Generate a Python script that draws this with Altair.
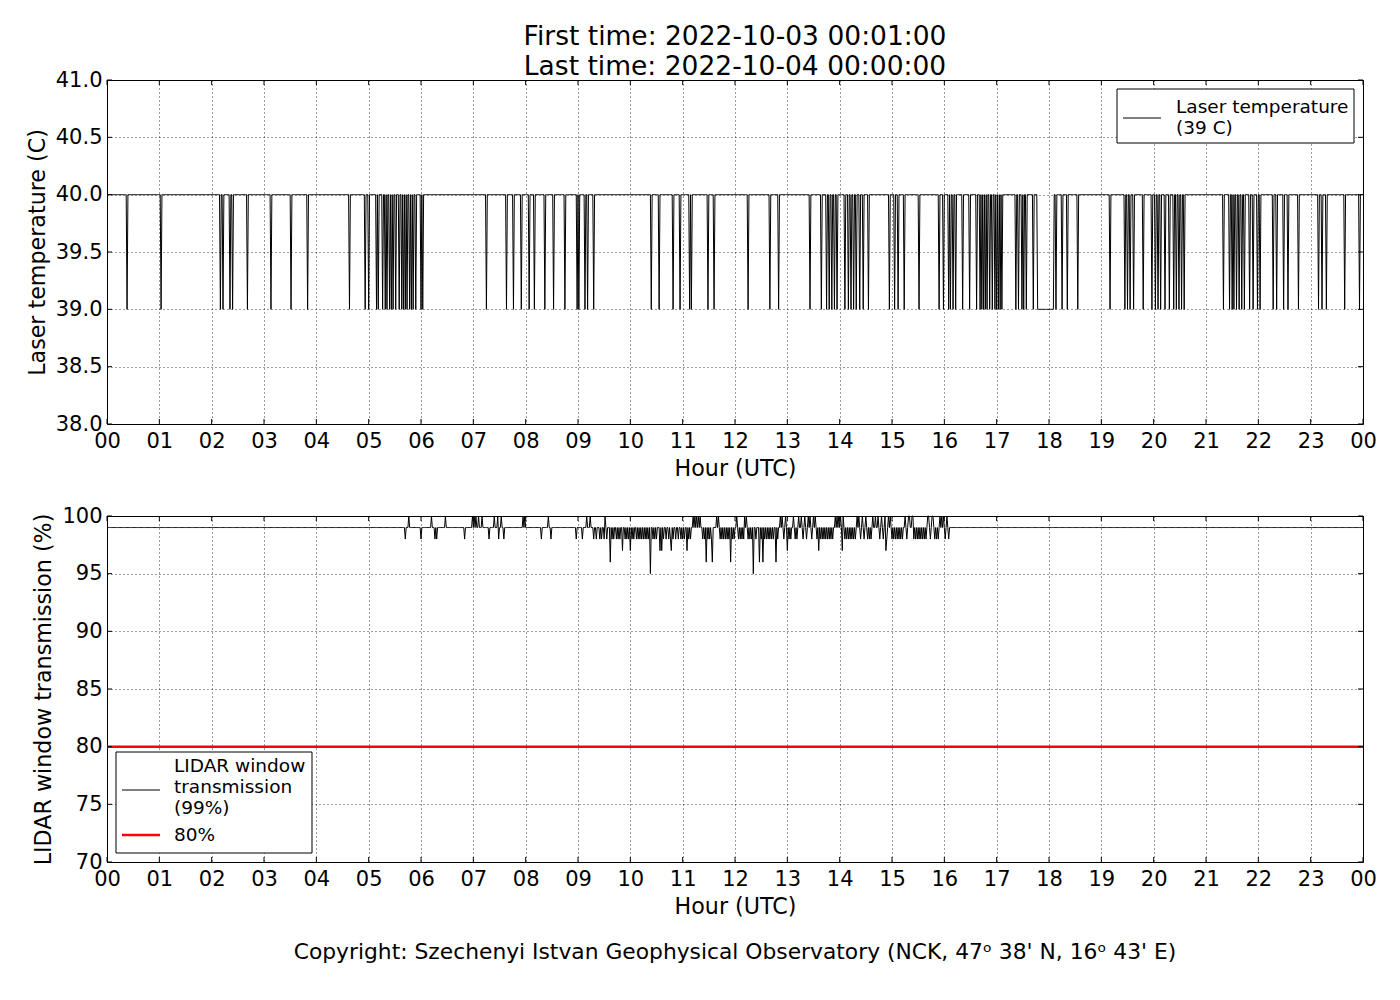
import altair as alt
import pandas as pd

# ---------------- data ----------------
HOUR_TICKS = list(range(25))
LASER_TICKS = [38.0, 38.5, 39.0, 39.5, 40.0, 40.5, 41.0]
LIDAR_TICKS = [70, 75, 80, 85, 90, 95, 100]

N_MINUTES = 1440  # samples every minute, 00:01 ... 24:00

LASER_LEGEND = ["Laser temperature", "(39 C)"]
LASER_NORMAL = 40
LASER_DIP = 39
LASER_DIP_MINUTES = [
    23, 62, 130, 133, 141, 144, 161, 188, 211, 230, 278, 296, 300, 309, 311,
    316, 319, 321, 324, 326, 328, 331, 335, 338, 340, 342, 344, 347, 349, 351,
    354, 360, 362, 435, 458, 466, 475, 484, 490, 502, 512, 525, 539, 541, 548,
    551, 558, 624, 633, 649, 657, 668, 670, 689, 696, 735, 760, 770, 806, 819,
    825, 828, 831, 834, 837, 846, 850, 853, 856, 859, 863, 867, 873, 897, 903,
    907, 914, 931, 954, 959, 965, 967, 970, 973, 981, 989, 997, 1001, 1003,
    1005, 1007, 1009, 1012, 1015, 1018, 1020, 1022, 1024, 1026, 1042, 1045,
    1049, 1051, 1054, 1062, 1088, 1095, 1101, 1113, 1150, 1167, 1170, 1173,
    1177, 1188, 1198, 1202, 1205, 1208, 1213, 1218, 1223, 1226, 1229, 1232,
    1235, 1280, 1287, 1290, 1292, 1295, 1298, 1301, 1304, 1310, 1314, 1319,
    1322, 1337, 1341, 1349, 1354, 1366, 1389, 1393, 1398, 1419, 1436,
]
LASER_LOW_SPANS = [(1067, 1085)]

LIDAR_LEGEND = ["LIDAR window", "transmission", "(99%)"]
THRESHOLD_LEGEND = "80%"
THRESHOLD = 80
LIDAR_NORMAL = 99
LIDAR_100 = [
    346, 372, 388, 419, 421, 423, 426, 430, 444, 448, 452, 477, 479, 506, 550,
    554, 571, 672, 674, 676, 678, 680, 699, 701, 722, 731, 733, 772, 774, 778,
    787, 793, 796, 800, 804, 806, 810, 812, 835, 837, 839, 841, 844, 860, 862,
    866, 870, 878, 881, 884, 888, 892, 896, 898, 915, 919, 920, 923, 924, 941,
    942, 946, 947, 955, 957, 959, 963,
]
LIDAR_98 = [
    342, 360, 376, 378, 410, 438, 449, 455, 498, 509, 538, 545, 558, 561, 565,
    567, 570, 573, 579, 581, 584, 586, 588, 594, 596, 598, 602, 604, 607, 609,
    611, 613, 615, 617, 619, 621, 626, 628, 630, 638, 641, 644, 646, 649, 652,
    655, 658, 660, 662, 667, 669, 683, 685, 689, 691, 693, 703, 705, 707, 709,
    711, 713, 717, 719, 724, 726, 728, 730, 735, 737, 739, 744, 750, 754, 756,
    758, 760, 762, 764, 769, 776, 782, 784, 789, 791, 798, 802, 808, 814, 818,
    820, 822, 824, 826, 828, 830, 832, 846, 848, 850, 852, 854, 856, 858, 864,
    868, 872, 874, 876, 886, 890, 894, 900, 902, 904, 906, 908, 910, 912, 917,
    925, 927, 929, 931, 933, 935, 937, 939, 944, 949, 951, 953, 961, 965,
]
LIDAR_97 = [591, 600, 634, 636, 647, 665, 780, 816, 843, 893]
LIDAR_96 = [577, 687, 694, 715, 748, 752, 767]
LIDAR_95 = [623, 741]

TITLE_LINES = ["First time: 2022-10-03 00:01:00", "Last time: 2022-10-04 00:00:00"]
COPYRIGHT = "Copyright: Szechenyi Istvan Geophysical Observatory (NCK, 47\u1d52  38' N, 16\u1d52  43' E)"

# ---------------- tables ----------------
minutes = list(range(1, N_MINUTES + 1))

laser = {m: LASER_NORMAL for m in minutes}
for m in LASER_DIP_MINUTES:
    laser[m] = LASER_DIP
for a, b in LASER_LOW_SPANS:
    for m in range(a, b + 1):
        laser[m] = LASER_DIP
laser_df = pd.DataFrame({
    "hour": [m / 60 for m in minutes],
    "temp": [laser[m] for m in minutes],
})

lidar = {m: LIDAR_NORMAL for m in minutes}
for level, mins in [(98, LIDAR_98), (100, LIDAR_100), (97, LIDAR_97), (96, LIDAR_96), (95, LIDAR_95)]:
    for m in mins:
        lidar[m] = level
lidar_df = pd.DataFrame({
    "hour": [m / 60 for m in minutes],
    "trans": [lidar[m] for m in minutes],
})
thr_df = pd.DataFrame({"trans": [THRESHOLD]})

xt_df = pd.DataFrame({"hour": HOUR_TICKS})
yt1_df = pd.DataFrame({"temp": LASER_TICKS})
yt2_df = pd.DataFrame({"trans": LIDAR_TICKS})
one = pd.DataFrame({"k": [0]})

# ---------------- layout constants ----------------
W, H1, H2 = 1256, 344, 346
TICK = 5
FONT = "DejaVu Sans"
LEG_FS = 18.5
RED = "#ff0000"

x_scale = alt.Scale(domain=[0, 24], nice=False, zero=False)
x_axis = alt.Axis(
    values=HOUR_TICKS,
    labelExpr="datum.value == 24 ? '00' : (datum.value < 10 ? '0' + datum.value : '' + datum.value)",
    title="Hour (UTC)",
    labelFlush=False,
    labelOverlap=False,
    labelPadding=6,
)
y1_scale = alt.Scale(domain=[38, 41], nice=False, zero=False)
y1_axis = alt.Axis(values=LASER_TICKS, format=".1f", title="Laser temperature (C)",
                   labelOverlap=False)
y2_scale = alt.Scale(domain=[70, 100], nice=False, zero=False)
y2_axis = alt.Axis(values=LIDAR_TICKS, format="d", title="LIDAR window transmission (%)",
                   labelOverlap=False)


def tick_layers(H, yfield, ydf, yscale, yaxis):
    xenc = alt.X("hour:Q", scale=x_scale, axis=x_axis)
    yenc = alt.Y(f"{yfield}:Q", scale=yscale, axis=yaxis)
    base_x = alt.Chart(xt_df).mark_rule(color="black", strokeWidth=1)
    xb = base_x.encode(x=xenc, y=alt.value(H - TICK), y2=alt.value(H))
    xtp = base_x.encode(x=xenc, y=alt.value(0), y2=alt.value(TICK))
    base_y = alt.Chart(ydf).mark_rule(color="black", strokeWidth=1)
    yl = base_y.encode(y=yenc, x=alt.value(0), x2=alt.value(TICK))
    yr = base_y.encode(y=yenc, x=alt.value(W - TICK), x2=alt.value(W))
    return [xb, xtp, yl, yr]


def legend_box(x0, x1, y0, y1):
    return alt.Chart(one).mark_rect(fill="white", stroke="black", strokeWidth=1).encode(
        x=alt.value(x0), x2=alt.value(x1), y=alt.value(y0), y2=alt.value(y1))


def legend_line(x0, x1, y, color, width):
    return alt.Chart(one).mark_rule(color=color, strokeWidth=width).encode(
        x=alt.value(x0), x2=alt.value(x1), y=alt.value(y))


def legend_text(txt, x, y):
    return alt.Chart(one).mark_text(text=txt, align="left", baseline="alphabetic",
                                    fontSize=LEG_FS, font=FONT, color="black").encode(
        x=alt.value(x), y=alt.value(y))


# ---------------- top panel ----------------
laser_line = alt.Chart(laser_df).mark_line(strokeWidth=1, color="black").encode(
    x=alt.X("hour:Q", scale=x_scale, axis=x_axis),
    y=alt.Y("temp:Q", scale=y1_scale, axis=y1_axis),
)
top_legend = [
    legend_box(W - 246, W - 9, 9, 63),
    legend_line(W - 240, W - 202, 38, "black", 1),
    legend_text(LASER_LEGEND[0], W - 187, 33),
    legend_text(LASER_LEGEND[1], W - 187, 54),
]

top = alt.layer(laser_line, *tick_layers(H1, "temp", yt1_df, y1_scale, y1_axis),
                *top_legend).properties(
    width=W, height=H1,
    title=alt.TitleParams(TITLE_LINES, fontSize=26.5, font=FONT, fontWeight="normal",
                          anchor="middle", frame="group", offset=-11, lineHeight=30,
                          color="black"),
)

# ---------------- bottom panel ----------------
lidar_line = alt.Chart(lidar_df).mark_line(strokeWidth=1, color="black").encode(
    x=alt.X("hour:Q", scale=x_scale, axis=x_axis),
    y=alt.Y("trans:Q", scale=y2_scale, axis=y2_axis),
)
thr_rule = alt.Chart(thr_df).mark_rule(color=RED, strokeWidth=2.5).encode(
    y=alt.Y("trans:Q", scale=y2_scale, axis=y2_axis),
)
bottom_legend = [
    legend_box(9, 205, 236, 337),
    legend_line(15, 53, 274, "black", 1),
    legend_text(LIDAR_LEGEND[0], 67, 256),
    legend_text(LIDAR_LEGEND[1], 67, 277),
    legend_text(LIDAR_LEGEND[2], 67, 298),
    legend_line(15, 53, 319, RED, 2.5),
    legend_text(THRESHOLD_LEGEND, 67, 325),
]

bottom = alt.layer(lidar_line, thr_rule, *tick_layers(H2, "trans", yt2_df, y2_scale, y2_axis),
                   *bottom_legend).properties(
    width=W, height=H2,
    title=alt.TitleParams(COPYRIGHT, orient="bottom", fontSize=21.8, font=FONT,
                          fontWeight="normal", anchor="middle", frame="group", offset=25,
                          color="black"),
)

chart = alt.vconcat(top, bottom, spacing=24).resolve_scale(
    y="independent", x="independent"
).properties(
    padding={"left": 17, "top": 15, "right": 10, "bottom": 10}
).configure(font=FONT).configure_view(
    stroke="black", strokeWidth=1
).configure_axis(
    labelFont=FONT, titleFont=FONT, labelFontSize=21, titleFontSize=22.2,
    titleFontWeight="normal", labelColor="black", titleColor="black",
    grid=True, gridColor="black", gridDash=[1, 3], gridWidth=0.8, gridOpacity=1,
    tickSize=0, domain=False, labelPadding=5, titlePadding=6,
)

chart.save("out.html", embed_options={"renderer": "svg", "actions": False})
